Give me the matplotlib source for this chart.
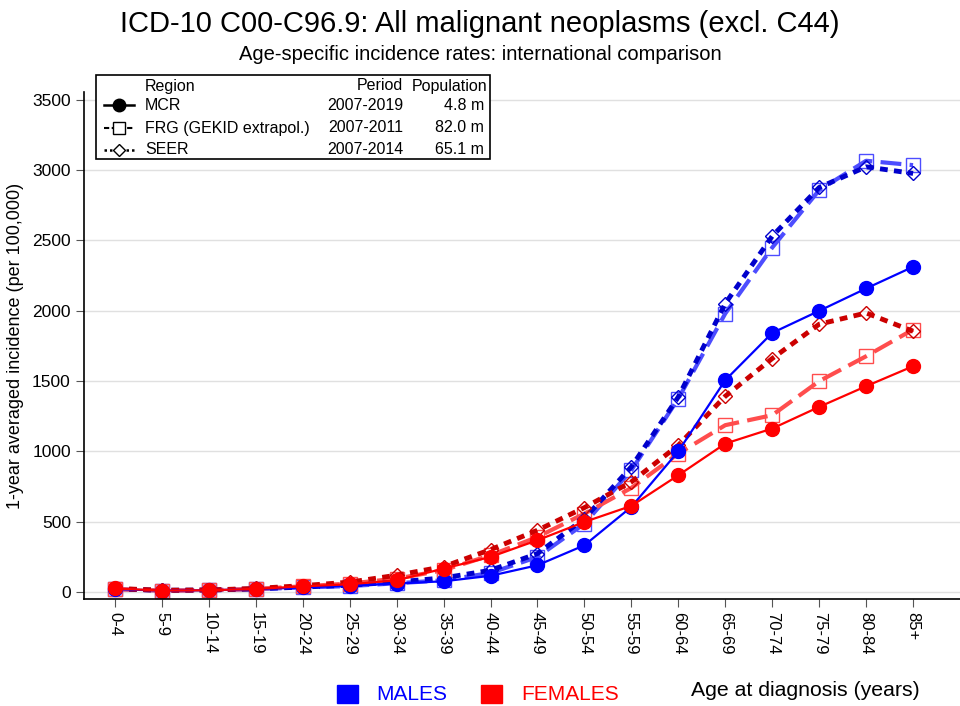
import matplotlib
matplotlib.use('Agg')
import matplotlib.pyplot as plt
from matplotlib.lines import Line2D
from matplotlib.patches import Rectangle

plt.rcParams['font.family'] = ['Liberation Sans', 'DejaVu Sans']

# age groups
ages = ['0-4', '5-9', '10-14', '15-19', '20-24', '25-29', '30-34', '35-39', '40-44',
        '45-49', '50-54', '55-59', '60-64', '65-69', '70-74', '75-79', '80-84', '85+']

# incidence per 100,000
mcr_m = [20, 10, 12, 20, 32, 45, 60, 76, 115, 190, 332, 605, 1000, 1506, 1842, 1999, 2158, 2312]
mcr_f = [25, 10, 12, 22, 40, 55, 83, 166, 249, 368, 498, 612, 830, 1055, 1162, 1316, 1463, 1605]
frg_m = [20, 10, 12, 20, 32, 42, 62, 83, 135, 249, 486, 866, 1375, 1980, 2449, 2857, 3066, 3035]
frg_f = [20, 10, 12, 22, 40, 60, 95, 155, 261, 391, 557, 740, 984, 1186, 1257, 1499, 1676, 1866]
seer_m = [22, 12, 14, 22, 35, 48, 71, 100, 154, 273, 522, 890, 1387, 2051, 2530, 2876, 3023, 2976]
seer_f = [25, 12, 14, 25, 45, 70, 119, 180, 301, 439, 600, 783, 1043, 1392, 1660, 1904, 1984, 1854]

# legend table
regions = ['MCR', 'FRG (GEKID extrapol.)', 'SEER']
periods = ['2007-2019', '2007-2011', '2007-2014']
populations = ['4.8 m', '82.0 m', '65.1 m']

W, H = 960, 706
fig = plt.figure(figsize=(9.6, 7.06), dpi=100)
ax = fig.add_axes([84 / W, 1 - 599 / H, (W - 84) / W, (599 - 92) / H])

x = list(range(len(ages)))

# FRG: long dashes, open squares
frg_style = dict(linestyle=(0, (5, 2)), linewidth=3, marker='s', markersize=9.5,
                 markerfacecolor='none', markeredgewidth=1)
ax.plot(x, frg_m, color='#4d4dff', **frg_style)
ax.plot(x, frg_f, color='#ff4d4d', **frg_style)

# SEER: short dashes, open diamonds
seer_style = dict(linestyle=(0, (1.6, 1.3)), linewidth=3.5, marker='D', markersize=7.5,
                  markerfacecolor='none', markeredgewidth=1)
ax.plot(x, seer_m, color='#0000cc', **seer_style)
ax.plot(x, seer_f, color='#cc0000', **seer_style)

# MCR: solid, filled circles
mcr_style = dict(linestyle='-', linewidth=1.6, marker='o', markersize=10)
ax.plot(x, mcr_m, color='#0000ff', **mcr_style)
ax.plot(x, mcr_f, color='#ff0000', **mcr_style)

ax.set_xlim(-0.66, 18.0)
ax.set_ylim(-50, 3555)
ax.set_yticks(range(0, 3501, 500))
ax.set_xticks(x)
ax.set_xticklabels(ages, rotation=270, fontsize=12)
ax.tick_params(axis='y', labelsize=12.5, length=6, color='#555555', direction='out')
ax.tick_params(axis='x', length=6, color='#555555', direction='out')
ax.yaxis.grid(True, color='#e0e0e0', linewidth=1)
ax.set_axisbelow(True)
for s in ['top', 'right']:
    ax.spines[s].set_visible(False)
ax.spines['left'].set_linewidth(1.2)
ax.spines['bottom'].set_linewidth(1.2)
ax.set_ylabel('1-year averaged incidence (per 100,000)', fontsize=13, labelpad=6)

# titles
fig.text(480 / W, 1 - 24 / H, 'ICD-10 C00-C96.9: All malignant neoplasms (excl. C44)',
         ha='center', va='center', fontsize=21)
fig.text(480 / W, 1 - 54 / H, 'Age-specific incidence rates: international comparison',
         ha='center', va='center', fontsize=14.5)

# legend table in pixel coordinates
lg = fig.add_axes([0, 0, 1, 1], facecolor='none')
lg.set_xlim(0, W)
lg.set_ylim(H, 0)
lg.axis('off')
lg.add_patch(Rectangle((96, 75), 394, 84, fill=True, facecolor='white',
                       edgecolor='black', linewidth=1.2))
fs = 11.5
lg.text(145, 86, 'Region', ha='left', va='center', fontsize=fs)
lg.text(403, 86, 'Period', ha='right', va='center', fontsize=fs)
lg.text(487, 86, 'Population', ha='right', va='center', fontsize=fs)
rows_y = [105, 128, 150]
samples = [
    dict(linestyle='-', linewidth=1.8, marker='o', markersize=9, color='black'),
    dict(linestyle=(0, (2.5, 1.2)), linewidth=1.5, marker='s', markersize=8,
         markerfacecolor='white', markeredgewidth=1, color='black'),
    dict(linestyle=(0, (1, 1.2)), linewidth=1.8, marker='D', markersize=6.5,
         markerfacecolor='white', markeredgewidth=1, color='black'),
]
for ry, st, reg, per, pop in zip(rows_y, samples, regions, periods, populations):
    lg.add_line(Line2D([104, 134], [ry, ry], **{k: v for k, v in st.items()
                                                 if not k.startswith('marker')}))
    lg.plot([119], [ry], linestyle='none', **{k: v for k, v in st.items()
                                              if k.startswith('marker') or k == 'color'})
    lg.text(145, ry, reg, ha='left', va='center', fontsize=fs)
    lg.text(403, ry, per, ha='right', va='center', fontsize=fs)
    lg.text(484, ry, pop, ha='right', va='center', fontsize=fs)

# sex legend and x label
lg.add_patch(Rectangle((337, 685), 21, 18, color='#0000ff'))
lg.text(376, 694, 'MALES', ha='left', va='center', fontsize=15, color='#0000ff')
lg.add_patch(Rectangle((481, 685), 21, 18, color='#ff0000'))
lg.text(521, 694, 'FEMALES', ha='left', va='center', fontsize=15, color='#ff0000')
lg.text(920, 691, 'Age at diagnosis (years)', ha='right', va='center', fontsize=15.3)

fig.savefig('out.png', dpi=100)
